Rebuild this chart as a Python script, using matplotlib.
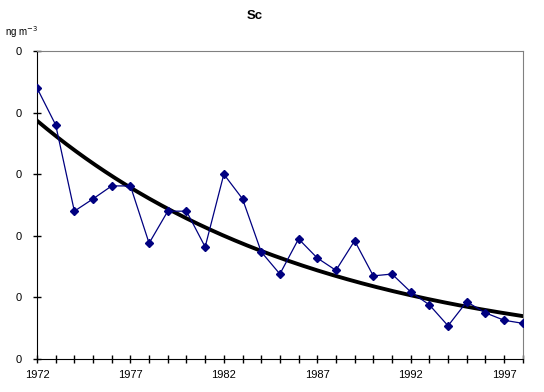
import numpy as np
import matplotlib.pyplot as plt
import matplotlib.ticker as mticker

plt.rcParams['font.family'] = ['Liberation Sans', 'DejaVu Sans']

years = np.arange(1972, 1999)
sc = [4.40, 3.80, 2.40, 2.60, 2.81, 2.81, 1.88, 2.40, 2.40, 1.82,
      3.00, 2.60, 1.74, 1.38, 1.95, 1.64, 1.44, 1.92, 1.35, 1.38,
      1.09, 0.88, 0.54, 0.93, 0.75, 0.63, 0.58]
xlabels = ["1972", "1977", "1982", "1987", "1992", "1997"]

# exponential trend like the excel one
b, a = np.polyfit(years - 1972, np.log(sc), 1)
xt = np.linspace(1972, 1998, 200)
trend = np.exp(a + b*(xt - 1972))

fig = plt.figure(figsize=(5.44, 3.92), dpi=100)
ax = fig.add_axes([0.068, 0.084, 0.893, 0.786])
ax.plot(years, sc, color="#000080", lw=0.9, marker="D", ms=4.5, zorder=3)
ax.plot(xt, trend, color="black", lw=2.8, zorder=2)

ax.set_xlim(1972, 1998)
ax.set_ylim(0, 5)
ax.set_xticks(years)
ax.set_xticklabels([str(y) if str(y) in xlabels else "" for y in years])
ax.set_yticks(np.arange(0, 6))
ax.yaxis.set_major_formatter(mticker.FixedFormatter(["0"]*6))
ax.tick_params(direction="inout", length=6, width=1, labelsize=8, colors="black")
ax.tick_params(axis="x", pad=5)
ax.tick_params(axis="y", pad=8)
for s in ["top", "right"]:
    ax.spines[s].set_color("#808080")
for s in ["left", "bottom"]:
    ax.spines[s].set_color("black")

fig.text(255/544, 1 - 16/392, "Sc", ha="center", va="center", fontsize=9.5, fontweight="bold")
fig.text(5/544, 1 - 32/392, "ng m$^{-3}$", ha="left", va="center", fontsize=7)

fig.savefig("out.png", dpi=100)
